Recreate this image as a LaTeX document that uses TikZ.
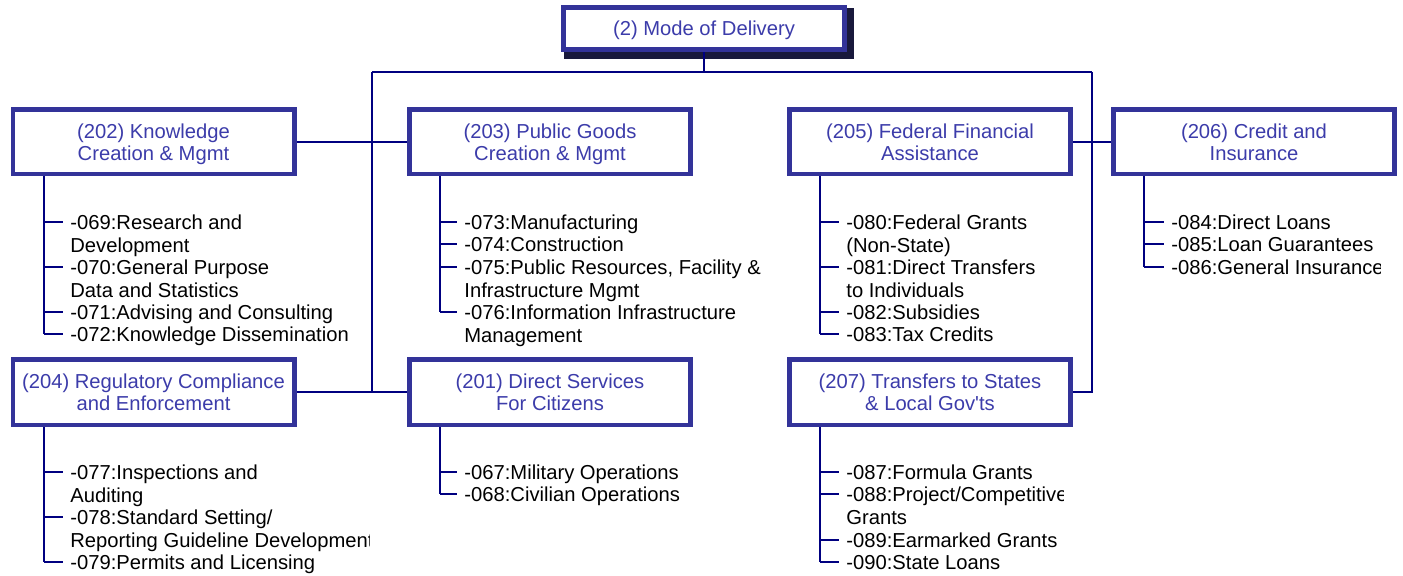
\documentclass[tikz,border=0pt]{standalone}
\usepackage{fontspec}
\setmainfont{Liberation Sans}
\usetikzlibrary{calc,backgrounds}
\definecolor{boxblue}{RGB}{51,51,153}
\definecolor{boxtext}{RGB}{60,60,170}
\definecolor{navy}{RGB}{0,0,128}
\definecolor{shadowc}{RGB}{25,25,60}
\tikzset{
  box/.style={draw=boxblue, line width=2pt, fill=white, text=boxtext, align=center,
    inner sep=0pt, minimum width=141pt, font=\fontsize{10.1}{11}\selectfont},
  boxinner/.style={draw=boxblue, line width=0.6pt},
  item/.style={anchor=north west, inner sep=0pt, align=left, text=black,
    font=\fontsize{10.1}{11.25}\selectfont},
  conn/.style={draw=navy, line width=1pt},
}
\newcommand\bx[5]{%
  \node[box, minimum height=#4] (#1) at (#2,#3) {\rule{0pt}{10.5pt}#5\strut};
  \draw[boxinner] ([shift={(2pt,-2pt)}]#1.north west) rectangle ([shift={(-2pt,2pt)}]#1.south east);
}
\newcommand\itm[5]{%
  \node[item] (#2) at (#3,#4-8.6) {\strut#5};
  \coordinate (#2-t) at ($(#2.north west)+(-7,8.6)$);
  \begin{scope}[on background layer]\draw[conn] (#1 |- #2-t) -- (#2-t);\end{scope}
}
\begin{document}
\begin{tikzpicture}[x=0.5pt,y=-0.5pt]
\useasboundingbox (0,0) rectangle (1403,576);
% boxes
\bx{top}{704}{28.5}{21.5pt}{(2) Mode of Delivery}
\bx{b202}{153.5}{142}{32.5pt}{(202) Knowledge\\Creation \& Mgmt}
\bx{b203}{550}{142}{32.5pt}{(203) Public Goods\\Creation \& Mgmt}
\bx{b205}{930}{142}{32.5pt}{(205) Federal Financial\\Assistance}
\bx{b206}{1254}{142}{32.5pt}{(206) Credit and\\Insurance}
\bx{b204}{153.5}{392.5}{33pt}{(204) Regulatory Compliance\\and Enforcement}
\bx{b201}{550}{392.5}{33pt}{(201) Direct Services\\For Citizens}
\bx{b207}{930}{392.5}{33pt}{(207) Transfers to States\\\& Local Gov\textquotesingle ts}
% main connectors
\coordinate (L) at (372,72);
\coordinate (R) at (1092,72);
\begin{scope}[on background layer]
  \fill[shadowc] ([shift={(3,3)}]top.north west) rectangle ([shift={(7,7)}]top.south east);
  \draw[conn] (top.south) -- (top.south |- L);
  \draw[conn] (L) -- (R);
  \draw[conn] (L) |- (b204.east);
  \draw[conn] (R) |- (b207.east);
  \draw[conn] (b202.east) -- (b203.west);
  \draw[conn] (b204.east) -- (b201.west);
  \draw[conn] (b205.east) -- (b206.west);
\end{scope}
% trunks
\foreach \b in {202,203,205,206,204,201,207}{
  \coordinate (k\b) at ([xshift=16.5pt]b\b.south west);
}
% tree 202
\itm{k202}{i069}{70}{222}{-069:Research and\\Development}
\itm{k202}{i070}{70}{267}{-070:General Purpose\\Data and Statistics}
\itm{k202}{i071}{70}{312}{-071:Advising and Consulting}
\itm{k202}{i072}{70}{334}{-072:Knowledge Dissemination}
% tree 203
\itm{k203}{i073}{464}{222}{-073:Manufacturing}
\itm{k203}{i074}{464}{244}{-074:Construction}
\itm{k203}{i075}{464}{267}{-075:Public Resources, Facility \&\\Infrastructure Mgmt}
\itm{k203}{i076}{464}{312}{-076:Information Infrastructure\\Management}
% tree 205
\itm{k205}{i080}{846}{222}{-080:Federal Grants\\(Non-State)}
\itm{k205}{i081}{846}{267}{-081:Direct Transfers\\to Individuals}
\itm{k205}{i082}{846}{312}{-082:Subsidies}
\itm{k205}{i083}{846}{334}{-083:Tax Credits}
% tree 206
\itm{k206}{i084}{1171}{222}{-084:Direct Loans}
\itm{k206}{i085}{1171}{244}{-085:Loan Guarantees}
\begin{scope}
  \clip (1100,200) rectangle (1380,290);
  \itm{k206}{i086}{1171}{267}{-086:General Insurance}
\end{scope}
% tree 204
\itm{k204}{i077}{70}{472}{-077:Inspections and\\Auditing}
\begin{scope}
  \clip (0,490) rectangle (369,560);
  \itm{k204}{i078}{70}{517}{-078:Standard Setting/\\Reporting Guideline Development}
\end{scope}
\itm{k204}{i079}{70}{562}{-079:Permits and Licensing}
% tree 201
\itm{k201}{i067}{464}{472}{-067:Military Operations}
\itm{k201}{i068}{464}{494}{-068:Civilian Operations}
% tree 207
\itm{k207}{i087}{846}{472}{-087:Formula Grants}
\begin{scope}
  \clip (780,482) rectangle (1063,530);
  \itm{k207}{i088}{846}{494}{-088:Project/Competitive\\Grants}
\end{scope}
\itm{k207}{i089}{846}{540}{-089:Earmarked Grants}
\itm{k207}{i090}{846}{562}{-090:State Loans}
\begin{scope}[on background layer]
  \draw[conn] (k202) -- (k202 |- i072-t);
  \draw[conn] (k203) -- (k203 |- i076-t);
  \draw[conn] (k205) -- (k205 |- i083-t);
  \draw[conn] (k206) -- (k206 |- i086-t);
  \draw[conn] (k204) -- (k204 |- i079-t);
  \draw[conn] (k201) -- (k201 |- i068-t);
  \draw[conn] (k207) -- (k207 |- i090-t);
\end{scope}
\end{tikzpicture}
\end{document}
